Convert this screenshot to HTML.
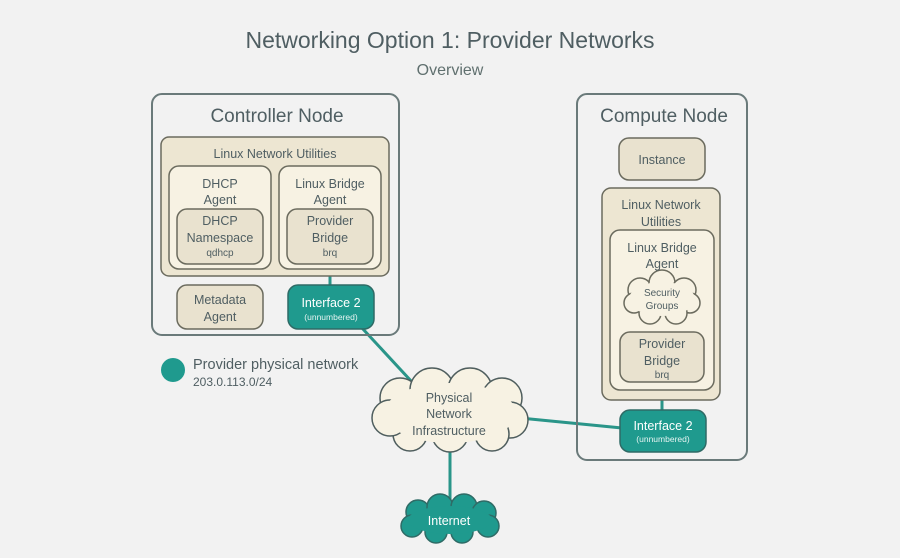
<!DOCTYPE html>
<html><head><meta charset="utf-8"><style>
html,body{margin:0;padding:0;background:#f2f2f2;}
svg{display:block;font-family:"Liberation Sans","DejaVu Sans",sans-serif;}
</style></head><body>
<svg width="900" height="558" viewBox="0 0 900 558" xmlns="http://www.w3.org/2000/svg">
<rect width="900" height="558" fill="#f2f2f2"/>
<g fill="#4f5e62" text-anchor="middle">
<text x="450" y="48" font-size="23">Networking Option 1: Provider Networks</text>
<text x="450" y="75" font-size="16" fill="#60706f">Overview</text>
</g>
<!-- connectors -->
<g stroke="#2a9589" stroke-width="3" fill="none">
<line x1="330" y1="264" x2="330" y2="287"/>
<line x1="362" y1="328" x2="412" y2="382"/>
<line x1="520" y1="418" x2="622" y2="428"/>
<line x1="450" y1="448" x2="450" y2="505"/>
<line x1="662" y1="382" x2="662" y2="410"/>
</g>
<!-- controller -->
<rect x="152" y="94" width="247" height="241" rx="10" fill="none" stroke="#6a7a7a" stroke-width="2"/>
<text x="277" y="122" font-size="19" fill="#4f5e62" text-anchor="middle">Controller Node</text>
<rect x="161" y="137" width="228" height="139" rx="8" fill="#ede6d2" stroke="#6b6b5e" stroke-width="1.5"/>
<rect x="169" y="166" width="102" height="103" rx="10" fill="#f7f2e3" stroke="#6b6b5e" stroke-width="1.5"/>
<rect x="279" y="166" width="102" height="103" rx="10" fill="#f7f2e3" stroke="#6b6b5e" stroke-width="1.5"/>
<rect x="177" y="209" width="86" height="55" rx="10" fill="#e9e2cf" stroke="#6b6b5e" stroke-width="1.5"/>
<rect x="287" y="209" width="86" height="55" rx="10" fill="#e9e2cf" stroke="#6b6b5e" stroke-width="1.5"/>
<rect x="177" y="285" width="86" height="44" rx="10" fill="#e9e2cf" stroke="#6b6b5e" stroke-width="1.5"/>
<rect x="288" y="285" width="86" height="44" rx="10" fill="#1f9a8e" stroke="#2f6b66" stroke-width="1.5"/>
<g fill="#4f5e62" text-anchor="middle" font-size="12.5">
<text x="275" y="158">Linux Network Utilities</text>
<text x="220" y="188">DHCP</text><text x="220" y="204">Agent</text>
<text x="330" y="188">Linux Bridge</text><text x="330" y="204">Agent</text>
<text x="220" y="225">DHCP</text><text x="220" y="242">Namespace</text>
<text x="220" y="256" font-size="10">qdhcp</text>
<text x="330" y="225">Provider</text><text x="330" y="242">Bridge</text>
<text x="330" y="256" font-size="10">brq</text>
<text x="220" y="304">Metadata</text><text x="220" y="321">Agent</text>
</g>
<text x="331" y="307" font-size="12.5" fill="#fff" text-anchor="middle">Interface 2</text>
<text x="331" y="320" font-size="8.5" fill="#e6f4f2" text-anchor="middle">(unnumbered)</text>
<!-- compute -->
<rect x="577" y="94" width="170" height="366" rx="10" fill="none" stroke="#6a7a7a" stroke-width="2"/>
<text x="664" y="122" font-size="19" fill="#4f5e62" text-anchor="middle">Compute Node</text>
<rect x="619" y="138" width="86" height="42" rx="10" fill="#e9e2cf" stroke="#6b6b5e" stroke-width="1.5"/>
<rect x="602" y="188" width="118" height="212" rx="9" fill="#ede6d2" stroke="#6b6b5e" stroke-width="1.5"/>
<rect x="610" y="230" width="104" height="160" rx="10" fill="#f7f2e3" stroke="#6b6b5e" stroke-width="1.5"/>
<rect x="620" y="332" width="84" height="50" rx="10" fill="#e9e2cf" stroke="#6b6b5e" stroke-width="1.5"/>
<rect x="620" y="410" width="86" height="42" rx="10" fill="#1f9a8e" stroke="#2f6b66" stroke-width="1.5"/>
<!-- security groups cloud -->
<g fill="#f7f2e3" stroke="#6b6b5e" stroke-width="1.5">
<circle cx="640" cy="290" r="12"/><circle cx="662" cy="283" r="13"/><circle cx="684" cy="290" r="12"/>
<circle cx="690" cy="303" r="10"/><circle cx="676" cy="313" r="11"/><circle cx="650" cy="313" r="11"/>
<circle cx="634" cy="303" r="10"/>
</g>
<ellipse cx="662" cy="299" rx="33" ry="17" fill="#f7f2e3"/>
<g fill="#4f5e62" text-anchor="middle" font-size="12.5">
<text x="662" y="164">Instance</text>
<text x="661" y="209">Linux Network</text><text x="661" y="226">Utilities</text>
<text x="662" y="252">Linux Bridge</text><text x="662" y="268">Agent</text>
<text x="662" y="296" font-size="10">Security</text><text x="662" y="309" font-size="10">Groups</text>
<text x="662" y="348">Provider</text><text x="662" y="365">Bridge</text>
<text x="662" y="378" font-size="10">brq</text>
</g>
<text x="663" y="430" font-size="12.5" fill="#fff" text-anchor="middle">Interface 2</text>
<text x="663" y="442" font-size="8.5" fill="#e6f4f2" text-anchor="middle">(unnumbered)</text>
<!-- physical cloud -->
<g fill="#f7f2e3" stroke="#4f5e5e" stroke-width="1.5">
<circle cx="400" cy="398" r="20"/><circle cx="432" cy="390" r="22"/><circle cx="470" cy="390" r="22"/>
<circle cx="502" cy="398" r="20"/><circle cx="510" cy="420" r="18"/><circle cx="492" cy="434" r="17"/>
<circle cx="450" cy="434" r="18"/><circle cx="410" cy="434" r="17"/><circle cx="390" cy="418" r="18"/>
</g>
<ellipse cx="450" cy="413" rx="66" ry="30" fill="#f7f2e3"/>
<g fill="#4f5e62" text-anchor="middle" font-size="12.5">
<text x="449" y="402">Physical</text><text x="449" y="418">Network</text><text x="449" y="435">Infrastructure</text>
</g>
<!-- internet cloud -->
<g fill="#1f9a8e" stroke="#2f6b66" stroke-width="1.5">
<circle cx="418" cy="512" r="12"/><circle cx="440" cy="507" r="13"/><circle cx="464" cy="507" r="13"/>
<circle cx="484" cy="513" r="12"/><circle cx="488" cy="526" r="11"/><circle cx="462" cy="532" r="11"/>
<circle cx="436" cy="532" r="11"/><circle cx="412" cy="526" r="11"/>
</g>
<ellipse cx="450" cy="520" rx="42" ry="14" fill="#1f9a8e"/>
<text x="449" y="525" font-size="12.5" fill="#fff" text-anchor="middle">Internet</text>
<!-- legend -->
<circle cx="173" cy="370" r="12" fill="#1f9a8e"/>
<text x="193" y="369" font-size="14.5" fill="#4f5e62">Provider physical network</text>
<text x="193" y="386" font-size="12" fill="#4f5e62">203.0.113.0/24</text>
</svg>
</body></html>
